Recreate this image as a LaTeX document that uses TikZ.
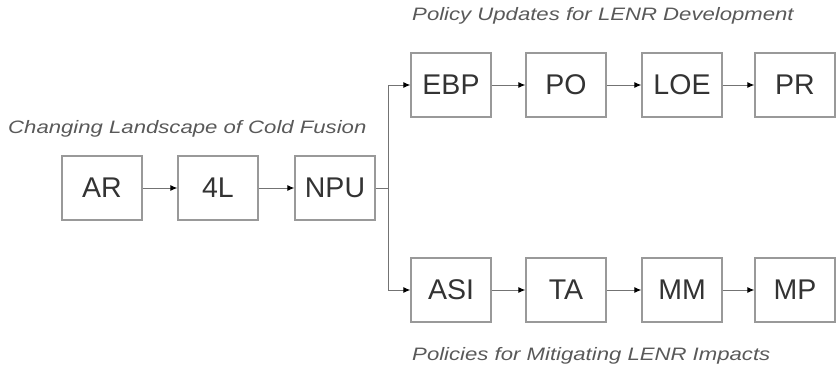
\documentclass[tikz,border=0pt]{standalone}
\usepackage{fontspec}
\setmainfont{Liberation Sans}
\usetikzlibrary{arrows.meta}
\begin{document}
\begin{tikzpicture}[x=1pt,y=-1pt,
  box/.style={draw=black!40,line width=1.3pt,minimum width=80pt,minimum height=64pt,inner sep=0pt,font=\fontsize{28.5}{31}\selectfont,text=black!80},
  conn/.style={draw=black!55,line width=1pt,-{Latex[length=7pt,width=6pt,color=black]}},
  wire/.style={draw=black!55,line width=1pt},
  lbl/.style={font=\fontsize{18}{21}\selectfont\itshape,text=black!65,inner sep=0pt,xscale=1.23}]
\useasboundingbox (0,0) rectangle (836,373);
\node[box] (AR) at (102,188) {AR};
\node[box] (L4) at (218,188) {4L};
\node[box] (NPU) at (335,188) {NPU};
\node[box] (EBP) at (451,85) {EBP};
\node[box] (PO) at (566,85) {PO};
\node[box] (LOE) at (682,85) {LOE};
\node[box] (PR) at (795,85) {PR};
\node[box] (ASI) at (451,290) {ASI};
\node[box] (TA) at (566,290) {TA};
\node[box] (MM) at (682,290) {MM};
\node[box] (MP) at (795,290) {MP};
\coordinate (J) at (388,188);
\node[lbl,anchor=west] (l1) at (8,129) {Changing Landscape of Cold Fusion};
\node[lbl,anchor=west] (l2) at (412,16) {Policy Updates for LENR Development};
\node[lbl,anchor=west] (l3) at (412,356) {Policies for Mitigating LENR Impacts};
\draw[conn] (AR) -- (L4);
\draw[conn] (L4) -- (NPU);
\draw[wire] (NPU) -- (J);
\draw[conn] (J) |- (EBP);
\draw[conn] (J) |- (ASI);
\draw[conn] (EBP) -- (PO);
\draw[conn] (PO) -- (LOE);
\draw[conn] (LOE) -- (PR);
\draw[conn] (ASI) -- (TA);
\draw[conn] (TA) -- (MM);
\draw[conn] (MM) -- (MP);
\end{tikzpicture}
\end{document}
